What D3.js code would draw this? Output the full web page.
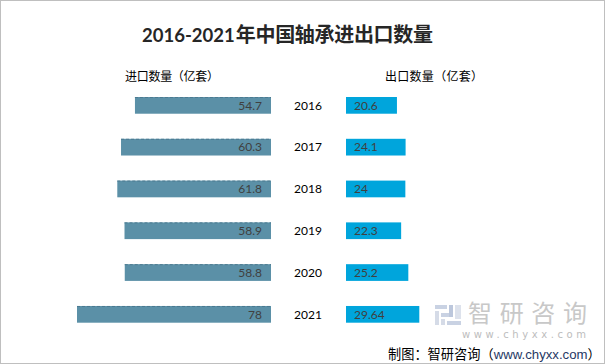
<!DOCTYPE html>
<html>
<head>
<meta charset="utf-8">
<script src="https://cdn.jsdelivr.net/npm/d3@7/dist/d3.min.js"></script>
<style>
  html, body { margin: 0; padding: 0; background: #ffffff; }
  svg { display: block; }
</style>
</head>
<body>
<div id="chart"></div>
<script>
const years = ["2016", "2017", "2018", "2019", "2020", "2021"];
const importValues = [54.7, 60.3, 61.8, 58.9, 58.8, 78];
const exportValues = [20.6, 24.1, 24, 22.3, 25.2, 29.64];
const importLabels = ["54.7", "60.3", "61.8", "58.9", "58.8", "78"];
const exportLabels = ["20.6", "24.1", "24", "22.3", "25.2", "29.64"];

const W = 605, H = 364;
const svg = d3.select("#chart").append("svg").attr("width", W).attr("height", H);

svg.append("rect").attr("x", 0.5).attr("y", 0.5).attr("width", W - 1).attr("height", H - 1)
  .attr("fill", "#fff").attr("stroke", "#bfbfbf");

const latin = "Lato, 'Open Sans', sans-serif";
const cjk = "'Noto Sans CJK SC', sans-serif";

// Title
const tDigits = svg.append("text").attr("x", 142).attr("y", 42)
  .attr("fill", "#262626").attr("font-weight", "bold")
  .attr("font-family", latin).attr("font-size", 18.5)
  .text("2016-2021");
const dw = tDigits.node().getComputedTextLength();
const cjkX = 142 + dw + 1;
svg.append("text").attr("x", cjkX).attr("y", 42)
  .attr("fill", "#262626").attr("font-weight", 600)
  .attr("font-family", cjk).attr("font-size", 20)
  .attr("textLength", Math.max(190, 433 - cjkX)).attr("lengthAdjust", "spacing").text("年中国轴承进出口数量");

// Headers
svg.append("text").attr("x", 125).attr("y", 77).attr("dy", "0.35em")
  .attr("font-family", cjk).attr("font-size", 12).attr("fill", "#000")
  .attr("textLength", 94).attr("lengthAdjust", "spacing")
  .text("进口数量（亿套）");
svg.append("text").attr("x", 385).attr("y", 77).attr("dy", "0.35em")
  .attr("font-family", cjk).attr("font-size", 12).attr("fill", "#000")
  .attr("textLength", 98).attr("lengthAdjust", "spacing")
  .text("出口数量（亿套）");

// Scales
const y = d3.scaleBand().domain(years).range([97, 322.7]).paddingInner(0.6).paddingOuter(0);
const xL = d3.scaleLinear().domain([0, 78]).range([0, 194]);
const xR = d3.scaleLinear().domain([0, 29.64]).range([0, 73.3]);
const leftEnd = 271, rightStart = 346, yearX = 308;

const rows = years.map((yr, i) => ({ yr, imp: importValues[i], exp: exportValues[i], il: importLabels[i], el: exportLabels[i] }));

const g = svg.append("g");
// left bars
g.selectAll("rect.imp").data(rows).join("rect").attr("class", "imp")
  .attr("x", d => leftEnd - xL(d.imp)).attr("y", d => y(d.yr))
  .attr("width", d => xL(d.imp)).attr("height", y.bandwidth())
  .attr("fill", "#5b90a7");
g.selectAll("line.impTop").data(rows).join("line").attr("class", "impTop")
  .attr("x1", d => leftEnd - xL(d.imp)).attr("x2", leftEnd)
  .attr("y1", d => y(d.yr) + 0.5).attr("y2", d => y(d.yr) + 0.5)
  .attr("stroke", "#4c7a90").attr("stroke-dasharray", "3,2").attr("stroke-width", 1);
// right bars
g.selectAll("rect.exp").data(rows).join("rect").attr("class", "exp")
  .attr("x", rightStart).attr("y", d => y(d.yr))
  .attr("width", d => xR(d.exp)).attr("height", y.bandwidth())
  .attr("fill", "#00a5dc");

// value labels
g.selectAll("text.il").data(rows).join("text").attr("class", "il")
  .attr("x", leftEnd - 9).attr("y", d => y(d.yr) + y.bandwidth() / 2).attr("dy", "0.36em")
  .attr("text-anchor", "end").attr("font-family", latin).attr("font-size", 12).attr("fill", "#404040")
  .text(d => d.il);
g.selectAll("text.el").data(rows).join("text").attr("class", "el")
  .attr("x", rightStart + 8).attr("y", d => y(d.yr) + y.bandwidth() / 2).attr("dy", "0.36em")
  .attr("font-family", latin).attr("font-size", 12).attr("fill", "#404040")
  .text(d => d.el);
// years
g.selectAll("text.yr").data(rows).join("text").attr("class", "yr")
  .attr("x", yearX).attr("y", d => y(d.yr) + y.bandwidth() / 2).attr("dy", "0.36em")
  .attr("text-anchor", "middle").attr("font-family", latin).attr("font-size", 12).attr("fill", "#000")
  .text(d => d.yr);

// Watermark
const wm = svg.append("g");
wm.append("rect").attr("x", 435).attr("y", 305).attr("width", 12).attr("height", 4).attr("fill", "#c9d2e3");
wm.append("rect").attr("x", 435).attr("y", 311).attr("width", 4).attr("height", 14).attr("fill", "#d5dbe7");
wm.append("rect").attr("x", 441).attr("y", 313).attr("width", 8).attr("height", 4).attr("fill", "#c9d2e3");
wm.append("rect").attr("x", 449).attr("y", 305).attr("width", 4).attr("height", 12).attr("fill", "#bcc7dc");
wm.append("rect").attr("x", 441).attr("y", 319).attr("width", 4).attr("height", 6).attr("fill", "#d5dbe7");
wm.append("rect").attr("x", 447).attr("y", 321).attr("width", 14).attr("height", 4).attr("fill", "#c9d2e3");
wm.append("rect").attr("x", 455).attr("y", 305).attr("width", 6).attr("height", 14).attr("fill", "#dde2ec");
wm.append("text").attr("x", 468).attr("y", 313).attr("dy", "0.36em")
  .attr("font-family", cjk).attr("font-size", 24).attr("fill", "#c8c8c8")
  .attr("textLength", 119).attr("lengthAdjust", "spacing").text("智研咨询");
wm.append("text").attr("x", 462).attr("y", 338)
  .attr("font-family", "'DejaVu Sans', sans-serif").attr("font-size", 10).attr("fill", "#bdbdbd")
  .attr("textLength", 124).attr("lengthAdjust", "spacing").text("www.chyxx.com");

// Source (three pieces placed side by side)
const srcParts = [
  { t: "制图：智研咨询（", f: cjk, c: "#000" },
  { t: "www.chyxx.com", f: "'Liberation Sans', Arial, sans-serif", c: "#1f3864" },
  { t: "）", f: cjk, c: "#000" }
];
const srcG = svg.append("g");
const srcNodes = srcParts.map(p => srcG.append("text").attr("y", 354).attr("dy", "0.36em")
  .attr("font-family", p.f).attr("font-size", 14).attr("fill", p.c).text(p.t));
let total = srcNodes.reduce((s, n) => s + n.node().getComputedTextLength(), 0);
const fs = 14 * 213 / total;
srcNodes.forEach(n => n.attr("font-size", fs));
let sx = 388;
srcNodes.forEach(n => { n.attr("x", sx); sx += n.node().getComputedTextLength(); });
</script>
</body>
</html>
